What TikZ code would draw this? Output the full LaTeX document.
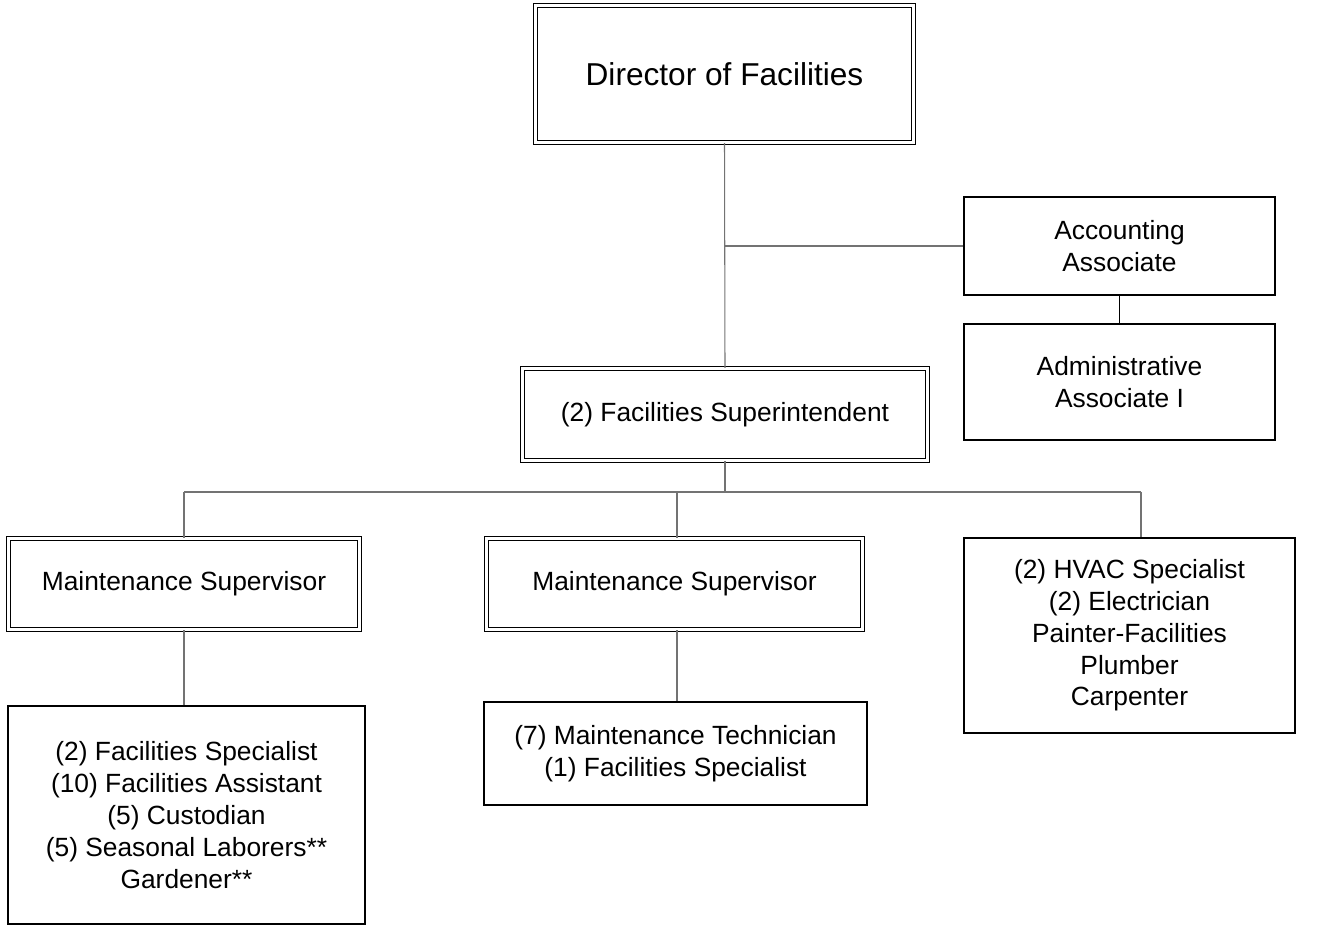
\documentclass[tikz,border=0pt]{standalone}
\usepackage{fontspec}
\setmainfont{Liberation Sans}
\usetikzlibrary{positioning}

\begin{document}
\begin{tikzpicture}[
	box/.style={draw=black,line width=0.8pt,inner sep=0pt,align=center,font=\fontsize{15}{18.1}\selectfont},
	dbox/.style={box,double,double distance=1.5pt,line width=0.8pt},
	link/.style={draw=black!55,line width=0.6pt}]
	\useasboundingbox (0,0) rectangle (26.46,-18.54);
	% head of the chart
	\node[dbox,minimum width=7.56cm,minimum height=2.74cm,font=\fontsize{18}{22}\selectfont] (dir) at (14.49,-1.48) {Director of Facilities};
	\node[box,minimum width=6.22cm,minimum height=1.96cm] (acc) at (22.39,-4.92) {Accounting\\Associate};
	\node[box,minimum width=6.22cm,minimum height=2.32cm] (adm) at (22.39,-7.64) {Administrative\\Associate I};
	\node[dbox,minimum width=8.1cm,minimum height=1.84cm] (sup) at (14.5,-8.29) {(2) Facilities Superintendent};
	% supervisors and trades
	\node[dbox,minimum width=7.02cm,minimum height=1.82cm] (ms1) at (3.68,-11.68) {Maintenance Supervisor};
	\node[dbox,minimum width=7.52cm,minimum height=1.82cm] (ms2) at (13.49,-11.68) {Maintenance Supervisor};
	\node[box,minimum width=6.62cm,minimum height=3.9cm] (trd) at (22.59,-12.71) {(2) HVAC Specialist\\(2) Electrician\\Painter-Facilities\\Plumber\\Carpenter};
	% staff
	\node[box,minimum width=7.14cm,minimum height=4.36cm] (st1) at (3.73,-16.3) {(2) Facilities Specialist\\(10) Facilities Assistant\\(5) Custodian\\(5) Seasonal Laborers**\\Gardener**};
	\node[box,minimum width=7.66cm,minimum height=2.06cm] (st2) at (13.51,-15.07) {(7) Maintenance Technician\\(1) Facilities Specialist};

	\coordinate (j1) at (dir.south |- acc.west);
	\coordinate (bus) at (14.5,-9.84);
	\coordinate (b1) at (ms1.north |- bus);
	\coordinate (b2) at (13.54,-9.84);
	\coordinate (b3) at (22.82,-9.84);
	\draw[link] (dir.south) -- (sup.north);
	\draw[link] (j1) -- (acc.west);
	\draw[link,draw=black,line width=0.8pt] (acc.south) -- (adm.north);
	\draw[link] (sup.south) -- (bus);
	\draw[link] (b1) -- (b3);
	\draw[link] (b1) -- (ms1.north);
	\draw[link] (b2) -- (b2 |- ms2.north);
	\draw[link] (b3) -- (b3 |- trd.north);
	\draw[link] (ms1.south) -- (ms1.south |- st1.north);
	\draw[link] (b2 |- ms2.south) -- (b2 |- st2.north);
\end{tikzpicture}
\end{document}
